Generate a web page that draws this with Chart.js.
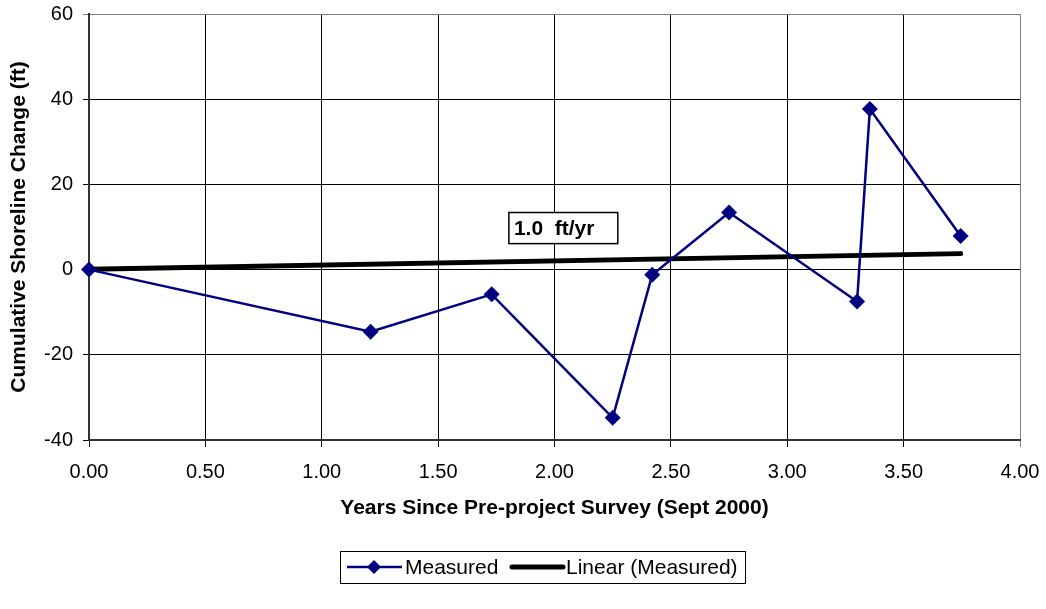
<!DOCTYPE html>
<html>
<head>
<meta charset="utf-8">
<script src="https://cdn.jsdelivr.net/npm/chart.js@4/dist/chart.umd.min.js"></script>
<style>
  html, body { margin: 0; padding: 0; background: #fff; }
  #wrap { width: 1046px; height: 609px; }
</style>
</head>
<body>
<div id="wrap"><canvas id="shoreChart" width="1046" height="609"></canvas></div>
<script>
// data
const years = [0.00, 1.21, 1.73, 2.25, 2.42, 2.75, 3.30, 3.355, 3.745];
const measured = [0.0, -14.6, -5.8, -34.8, -1.2, 13.4, -7.5, 37.7, 7.9];
const trendX = [0.00, 3.745];
const trendY = [0.1, 3.75];
const xTicks = [0, 0.5, 1, 1.5, 2, 2.5, 3, 3.5, 4];
const yTicks = [-40, -20, 0, 20, 40, 60];
const rateLabel = '1.0  ft/yr';
const rateBox = { x0: 1.804, x1: 2.272, y0: 13.4, y1: 6.1 };

const FONT = "'Liberation Sans', Arial, sans-serif";
const NAVY = '#000080';

const measuredPts = years.map((x, i) => ({ x: x, y: measured[i] }));
const trendPts = trendX.map((x, i) => ({ x: x, y: trendY[i] }));

// text box with the rate, anchored to data coordinates
const rateNote = {
    id: 'rateNote',
    afterDatasetsDraw(chart) {
        const { ctx, scales: { x, y } } = chart;
        const l = x.getPixelForValue(rateBox.x0), r = x.getPixelForValue(rateBox.x1);
        const t = y.getPixelForValue(rateBox.y0), b = y.getPixelForValue(rateBox.y1);
        ctx.save();
        ctx.fillStyle = '#fff';
        ctx.fillRect(l, t, r - l, b - t);
        ctx.strokeStyle = '#000';
        ctx.lineWidth = 1.5;
        ctx.strokeRect(l, t, r - l, b - t);
        ctx.fillStyle = '#000';
        ctx.font = 'bold 21px ' + FONT;
        ctx.textBaseline = 'middle';
        ctx.fillText(rateLabel, l + 5, (t + b) / 2 + 1);
        ctx.restore();
    }
};

// boxed legend below the axis title
const boxLegend = {
    id: 'boxLegend',
    afterDraw(chart) {
        const { ctx } = chart;
        const ds = chart.data.datasets;
        const top = 551, bot = 583, left = 340, right = 745;
        const cy = (top + bot) / 2;
        ctx.save();
        ctx.strokeStyle = '#000';
        ctx.lineWidth = 1;
        ctx.strokeRect(left + 0.5, top + 0.5, right - left, bot - top);
        ctx.font = '21px ' + FONT;
        ctx.textBaseline = 'middle';
        ctx.fillStyle = '#000';
        // Measured
        ctx.strokeStyle = ds[0].borderColor;
        ctx.lineWidth = ds[0].borderWidth;
        ctx.beginPath(); ctx.moveTo(347, cy); ctx.lineTo(402, cy); ctx.stroke();
        ctx.fillStyle = ds[0].pointBackgroundColor;
        ctx.beginPath();
        ctx.moveTo(374, cy - 7); ctx.lineTo(381, cy); ctx.lineTo(374, cy + 7); ctx.lineTo(367, cy);
        ctx.closePath(); ctx.fill();
        ctx.fillStyle = '#000';
        ctx.fillText(ds[0].label, 405, cy + 1);
        // Linear
        ctx.strokeStyle = ds[1].borderColor;
        ctx.lineWidth = ds[1].borderWidth;
        ctx.lineCap = 'round';
        ctx.beginPath(); ctx.moveTo(512, cy); ctx.lineTo(563, cy); ctx.stroke();
        ctx.fillText(ds[1].label, 566, cy + 1);
        ctx.restore();
    }
};

const gridColor = (edge) => (c) => (c.tick && c.tick.value === edge ? '#808080' : '#000');

new Chart(document.getElementById('shoreChart').getContext('2d'), {
    type: 'scatter',
    data: {
        datasets: [{
            label: 'Measured',
            data: measuredPts,
            showLine: true,
            borderColor: NAVY,
            borderWidth: 2.5,
            pointStyle: 'rectRot',
            pointRadius: 8,
            pointBackgroundColor: NAVY,
            pointBorderColor: NAVY,
            pointBorderWidth: 0,
            clip: false,
            order: 1
        }, {
            label: 'Linear (Measured)',
            data: trendPts,
            showLine: true,
            borderColor: '#000',
            borderWidth: 5,
            borderCapStyle: 'round',
            pointRadius: 0,
            clip: false,
            order: 2
        }]
    },
    options: {
        responsive: false,
        animation: false,
        layout: { padding: { left: 0, top: 14, right: 26, bottom: 0 } },
        plugins: { legend: { display: false }, tooltip: { enabled: false } },
        scales: {
            x: {
                type: 'linear',
                min: 0, max: 4,
                afterBuildTicks: (s) => { s.ticks = xTicks.map(v => ({ value: v })); },
                afterFit: (s) => { s.height = 169; s.paddingLeft = 0; s.paddingRight = 0; },
                ticks: {
                    color: '#000',
                    font: { family: FONT, size: 20 },
                    padding: 13,
                    maxRotation: 0,
                    callback: (v) => Number(v).toFixed(2)
                },
                grid: { color: gridColor(4), lineWidth: 1, tickLength: 7 },
                border: { color: '#333', width: 2 },
                title: {
                    display: true,
                    text: 'Years Since Pre-project Survey (Sept 2000)',
                    color: '#000',
                    font: { family: FONT, size: 21, weight: 'bold' },
                    padding: { top: 4, bottom: 88 }
                }
            },
            y: {
                type: 'linear',
                min: -40, max: 60,
                afterBuildTicks: (s) => { s.ticks = yTicks.map(v => ({ value: v })); },
                afterFit: (s) => { s.width = 89; s.paddingTop = 0; s.paddingBottom = 0; },
                ticks: {
                    color: '#000',
                    font: { family: FONT, size: 20 },
                    padding: 10
                },
                grid: { color: gridColor(60), lineWidth: 1, tickLength: 6 },
                border: { color: '#333', width: 2 },
                title: {
                    display: true,
                    text: 'Cumulative Shoreline Change (ft)',
                    color: '#000',
                    font: { family: FONT, size: 21, weight: 'bold' },
                    padding: { top: 7, bottom: 4 }
                }
            }
        }
    },
    plugins: [rateNote, boxLegend]
});
</script>
</body>
</html>
